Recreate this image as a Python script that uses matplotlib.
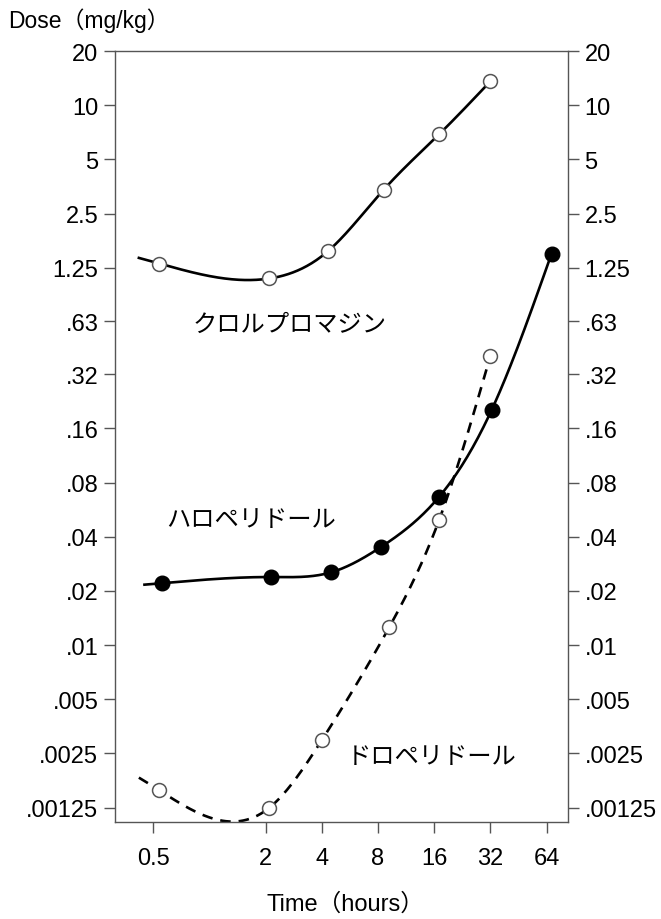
import numpy as np
import matplotlib
matplotlib.use('Agg')
import matplotlib.pyplot as plt

plt.rcParams['font.family'] = ['Liberation Sans', 'Noto Sans CJK JP']

# data
chlor_t = [0.54, 2.1, 4.3, 8.6, 17, 32]
chlor_dose = [1.32, 1.09, 1.54, 3.4, 6.9, 13.6]

halo_t = [0.56, 2.15, 4.5, 8.3, 17, 32.5, 68]
halo_dose = [0.0221, 0.0239, 0.0254, 0.0351, 0.0667, 0.203, 1.50]

dom_t = [0.54, 2.1, 4.0, 9.2, 17, 32]
dom_dose = [0.00156, 0.00125, 0.00296, 0.0126, 0.0496, 0.406]

x_ticks = [0.5, 2, 4, 8, 16, 32, 64]
x_labels = ['0.5', '2', '4', '8', '16', '32', '64']
y_ticks = [20, 10, 5, 2.5, 1.25, 0.63, 0.32, 0.16, 0.08, 0.04, 0.02, 0.01,
           0.005, 0.0025, 0.00125]
y_labels = ['20', '10', '5', '2.5', '1.25', '.63', '.32', '.16', '.08', '.04',
            '.02', '.01', '.005', '.0025', '.00125']


def smooth(t, d, t0):
    # natural cubic spline through the points in log-log space
    u = np.log(np.asarray(t, float))
    v = np.log(np.asarray(d, float))
    n = len(u)
    h = np.diff(u)
    A = np.zeros((n, n))
    r = np.zeros(n)
    A[0, 0] = A[-1, -1] = 1
    for i in range(1, n - 1):
        A[i, i - 1] = h[i - 1]
        A[i, i] = 2 * (h[i - 1] + h[i])
        A[i, i + 1] = h[i]
        r[i] = 3 * ((v[i + 1] - v[i]) / h[i] - (v[i] - v[i - 1]) / h[i - 1])
    c = np.linalg.solve(A, r)
    b = (v[1:] - v[:-1]) / h - h * (2 * c[:-1] + c[1:]) / 3
    dd = (c[1:] - c[:-1]) / (3 * h)
    uq = np.linspace(np.log(t0), u[-1], 300)
    i = np.clip(np.searchsorted(u, uq) - 1, 0, n - 2)
    du = uq - u[i]
    vq = v[i] + b[i] * du + c[i] * du ** 2 + dd[i] * du ** 3
    return np.exp(uq), np.exp(vq)


fig = plt.figure(figsize=(6.61, 9.2), dpi=100)
ax = fig.add_axes([0.174, 0.1054, 0.685, 0.838])
ax.set_xscale('log')
ax.set_yscale('log')

gray = '#555555'
xs, ys = smooth(chlor_t, chlor_dose, 0.42)
ax.plot(xs, ys, color='black', lw=1.9, zorder=2)
ax.plot(chlor_t, chlor_dose, 'o', ms=10, mfc='white', mec=gray, mew=1.1, zorder=3)

xs, ys = smooth(halo_t, halo_dose, 0.45)
ax.plot(xs, ys, color='black', lw=1.9, zorder=2)
ax.plot(halo_t, halo_dose, 'o', ms=10.5, mfc='black', mec='black', zorder=3)

xs, ys = smooth(dom_t, dom_dose, 0.42)
ax.plot(xs, ys, color='black', lw=1.9, ls=(0, (4, 3)), zorder=2)
ax.plot(dom_t, dom_dose, 'o', ms=10, mfc='white', mec=gray, mew=1.1, zorder=3)

ax.set_xlim(0.313, 83)
ax.set_ylim(0.00104, 20)

ax.set_xticks(x_ticks)
ax.set_xticklabels(x_labels)
ax.set_yticks(y_ticks)
ax.set_yticklabels(y_labels)
ax.minorticks_off()
ax.tick_params(axis='both', direction='out', length=8, width=1, color=gray,
               labelsize=17)
ax.tick_params(axis='y', right=True, labelright=True, pad=4)
ax.tick_params(axis='x', pad=10)
for s in ax.spines.values():
    s.set_color(gray)
    s.set_linewidth(1)

ax.text(0.386, 0.646, 'クロルプロマジン', transform=ax.transAxes, fontsize=17.5,
        ha='center', va='center', family='Noto Sans CJK JP')
ax.text(0.30, 0.393, 'ハロペリドール', transform=ax.transAxes, fontsize=17.5,
        ha='center', va='center', family='Noto Sans CJK JP')
ax.text(0.70, 0.086, 'ドロペリドール', transform=ax.transAxes, fontsize=17.5,
        ha='center', va='center', family='Noto Sans CJK JP')

fig.text(0.012, 0.977, 'Dose（mg/kg）', fontsize=16.5, ha='left', va='center')
fig.text(0.523, 0.017, 'Time（hours）', fontsize=17, ha='center', va='center')

fig.savefig('out.png', dpi=100)
